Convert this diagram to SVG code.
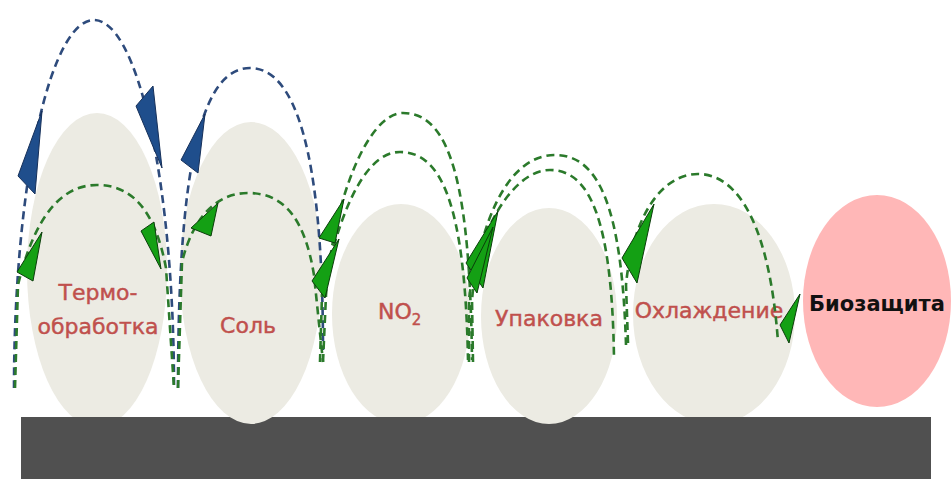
<svg xmlns="http://www.w3.org/2000/svg" width="952" height="479" viewBox="0 0 952 479">
  <style>
    .egg { fill: #ECEBE3; }
    .bio { fill: #FFB7B7; }
    .base { fill: #505050; }
    .lbl { font-family: "DejaVu Sans", "Liberation Sans", sans-serif; font-size: 22px; fill: #C0504D; stroke: #C0504D; stroke-width: 0.45; text-anchor: middle; }
    .lbl-dark { font-family: "DejaVu Sans", "Liberation Sans", sans-serif; font-size: 21px; font-weight: bold; fill: #111111; text-anchor: middle; }
    .arc-blue { fill: none; stroke: #2E4B7C; stroke-width: 2.6; stroke-dasharray: 8 5; }
    .arc-green { fill: none; stroke: #2B7A2B; stroke-width: 2.6; stroke-dasharray: 8 5; }
    .head-blue { fill: #1F4E8C; stroke: #16305A; stroke-width: 1; stroke-linejoin: round; }
    .head-green { fill: #14A014; stroke: #0B3D0B; stroke-width: 1; stroke-linejoin: round; }
  </style>

  <!-- stages that sit behind the base plate -->
  <g id="node-thermo">
    <ellipse class="egg" cx="97" cy="270" rx="70" ry="157"/>
    <text class="lbl" x="98" y="300">Термо-</text>
    <text class="lbl" x="98" y="334">обработка</text>
  </g>
  <g id="node-no2">
    <ellipse class="egg" cx="401" cy="314" rx="69" ry="110"/>
    <text class="lbl" x="378" y="319" style="text-anchor:start">NO<tspan font-size="15" dy="6">2</tspan></text>
  </g>
  <g id="node-cooling">
    <ellipse class="egg" cx="714" cy="314" rx="81" ry="110"/>
    <text class="lbl" x="709" y="318">Охлаждение</text>
  </g>

  <!-- base plate -->
  <rect id="base" class="base" x="21" y="417" width="910" height="62"/>

  <!-- stages drawn over the base plate -->
  <g id="node-salt">
    <ellipse class="egg" cx="251" cy="273" rx="71" ry="151"/>
    <text class="lbl" x="248" y="333">Соль</text>
  </g>
  <g id="node-pack">
    <ellipse class="egg" cx="549" cy="316" rx="68" ry="108"/>
    <text class="lbl" x="549" y="326">Упаковка</text>
  </g>
  <g id="node-bio">
    <ellipse class="bio" cx="877" cy="301" rx="74" ry="106"/>
    <text class="lbl-dark" x="877" y="311">Биозащита</text>
  </g>

  <!-- hurdle jumps -->
  <g id="connectors">
    <!-- blue jumps -->
    <path class="arc-blue" d="M 14 388 A 80 368 0 0 1 174 388"/>
    <path class="arc-blue" d="M 178 388 C 178 150, 205 68, 250 68 C 295 68, 323 150, 323 350"/>

    <!-- green jumps -->
    <path class="arc-green" d="M 15 388 L 18 285 C 35 215, 62 185, 97 185 C 132 185, 155 210, 166 268 L 174 388"/>
    <path class="arc-green" d="M 178 388 L 182 262 C 195 210, 222 193, 248 193 C 285 193, 305 220, 314 275 L 323 362"/>
    <path class="arc-green" d="M 323 362 L 326 295 C 333 200, 368 113, 403 113 C 452 113, 470 190, 472 360"/>
    <path class="arc-green" d="M 320 362 L 322 295 C 335 230, 360 152, 400 152 C 440 152, 465 200, 468 360"/>
    <path class="arc-green" d="M 473 362 L 472 300 C 478 230, 505 155, 555 155 C 600 155, 622 210, 626 345"/>
    <path class="arc-green" d="M 469 362 L 469 300 C 475 240, 510 170, 550 170 C 590 170, 612 220, 614 358"/>
    <path class="arc-green" d="M 628 343 L 626 285 C 632 220, 660 174, 698 174 C 740 174, 770 230, 778 342"/>

    <!-- arrowheads -->
    <polygon class="head-blue" points="18,176 35,194 42,111"/>
    <polygon class="head-blue" points="136,106 153,86 162,168"/>
    <polygon class="head-blue" points="181,160 198,173 205,114"/>

    <polygon class="head-green" points="17,272 33,281 42,232"/>
    <polygon class="head-green" points="141,231 154,222 161,269"/>
    <polygon class="head-green" points="191,228 211,236 218,203"/>
    <polygon class="head-green" points="319,238 335,243 344,199"/>
    <polygon class="head-green" points="312,281 325,298 339,239"/>
    <polygon class="head-green" points="466,263 483,288 498,211"/>
    <polygon class="head-green" points="467,278 477,293 493,227"/>
    <polygon class="head-green" points="622,258 637,283 654,204"/>
    <polygon class="head-green" points="800,294 780,325 789,343"/>
  </g>
</svg>
